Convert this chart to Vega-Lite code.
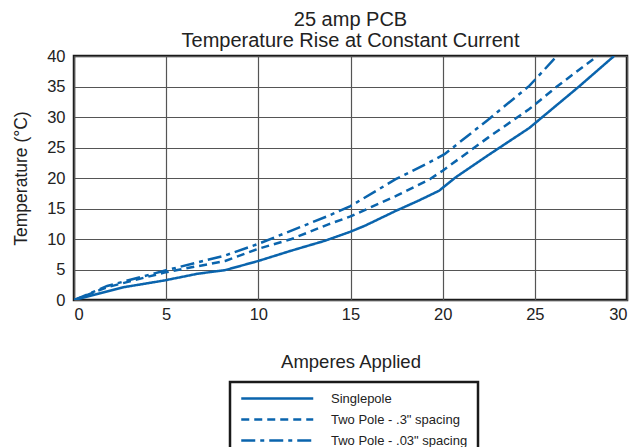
{
  "$schema": "https://vega.github.io/schema/vega-lite/v6.json",
  "width": 553,
  "height": 244,
  "autosize": {"type": "none"},
  "padding": {"left": 74, "top": 56, "right": 10, "bottom": 147},
  "background": "white",
  "title": {
    "text": ["25 amp PCB", "Temperature Rise at Constant Current"],
    "fontSize": 20,
    "fontWeight": "normal",
    "font": "Liberation Sans",
    "color": "#222222",
    "lineHeight": 21,
    "anchor": "middle",
    "baseline": "bottom",
    "offset": 5,
    "dy": 28
  },
  "config": {
    "font": "Liberation Sans",
    "view": {"stroke": "#1a1a1a", "strokeWidth": 2.5},
    "axis": {
      "domain": false,
      "ticks": false,
      "grid": true,
      "gridColor": "#555555",
      "gridWidth": 1.2,
      "gridOpacity": 1,
      "labelFont": "Liberation Sans",
      "labelFontSize": 16.5,
      "labelColor": "#222222",
      "titleFont": "Liberation Sans",
      "titleFontWeight": "normal",
      "titleColor": "#222222"
    }
  },
  "data": {
    "values": [
      {"series": "Singlepole", "amps": 0, "temp": 0},
      {"series": "Singlepole", "amps": 2.7, "temp": 2.1},
      {"series": "Singlepole", "amps": 4.9, "temp": 3.2},
      {"series": "Singlepole", "amps": 6.7, "temp": 4.3},
      {"series": "Singlepole", "amps": 8.2, "temp": 4.9},
      {"series": "Singlepole", "amps": 10, "temp": 6.4},
      {"series": "Singlepole", "amps": 11.8, "temp": 8.1},
      {"series": "Singlepole", "amps": 13.6, "temp": 9.7},
      {"series": "Singlepole", "amps": 15, "temp": 11.2},
      {"series": "Singlepole", "amps": 15.8, "temp": 12.2},
      {"series": "Singlepole", "amps": 17.45, "temp": 14.6},
      {"series": "Singlepole", "amps": 18.7, "temp": 16.3},
      {"series": "Singlepole", "amps": 19.8, "temp": 17.9},
      {"series": "Singlepole", "amps": 20.7, "temp": 20.1},
      {"series": "Singlepole", "amps": 22.55, "temp": 23.9},
      {"series": "Singlepole", "amps": 24.7, "temp": 28.2},
      {"series": "Singlepole", "amps": 27.4, "temp": 35},
      {"series": "Singlepole", "amps": 29.3, "temp": 40},
      {"series": "Two Pole - .3\" spacing", "amps": 0, "temp": 0},
      {"series": "Two Pole - .3\" spacing", "amps": 1.8, "temp": 2.1},
      {"series": "Two Pole - .3\" spacing", "amps": 4.9, "temp": 4.5},
      {"series": "Two Pole - .3\" spacing", "amps": 8.2, "temp": 6.4},
      {"series": "Two Pole - .3\" spacing", "amps": 10, "temp": 8.4},
      {"series": "Two Pole - .3\" spacing", "amps": 11.8, "temp": 10},
      {"series": "Two Pole - .3\" spacing", "amps": 13.8, "temp": 12.4},
      {"series": "Two Pole - .3\" spacing", "amps": 15, "temp": 13.7},
      {"series": "Two Pole - .3\" spacing", "amps": 17.5, "temp": 17.1},
      {"series": "Two Pole - .3\" spacing", "amps": 19.3, "temp": 19.8},
      {"series": "Two Pole - .3\" spacing", "amps": 20, "temp": 21.2},
      {"series": "Two Pole - .3\" spacing", "amps": 22.5, "temp": 26.7},
      {"series": "Two Pole - .3\" spacing", "amps": 24.7, "temp": 31.3},
      {"series": "Two Pole - .3\" spacing", "amps": 26.2, "temp": 35},
      {"series": "Two Pole - .3\" spacing", "amps": 28.4, "temp": 40},
      {"series": "Two Pole - .03\" spacing", "amps": 0, "temp": 0},
      {"series": "Two Pole - .03\" spacing", "amps": 1.8, "temp": 2.3},
      {"series": "Two Pole - .03\" spacing", "amps": 4.9, "temp": 4.8},
      {"series": "Two Pole - .03\" spacing", "amps": 8.2, "temp": 7.3},
      {"series": "Two Pole - .03\" spacing", "amps": 10, "temp": 9.2},
      {"series": "Two Pole - .03\" spacing", "amps": 13.8, "temp": 13.8},
      {"series": "Two Pole - .03\" spacing", "amps": 15, "temp": 15.4},
      {"series": "Two Pole - .03\" spacing", "amps": 17.45, "temp": 19.8},
      {"series": "Two Pole - .03\" spacing", "amps": 19.3, "temp": 22.6},
      {"series": "Two Pole - .03\" spacing", "amps": 20.1, "temp": 23.9},
      {"series": "Two Pole - .03\" spacing", "amps": 22.4, "temp": 29.4},
      {"series": "Two Pole - .03\" spacing", "amps": 24.7, "temp": 35.1},
      {"series": "Two Pole - .03\" spacing", "amps": 26.2, "temp": 40}
    ]
  },
  "mark": {"type": "line", "color": "#0a64ad", "strokeWidth": 2.5, "clip": true},
  "encoding": {
    "x": {
      "field": "amps",
      "type": "quantitative",
      "scale": {"domain": [0, 30], "nice": false},
      "axis": {"values": [0, 5, 10, 15, 20, 25, 30], "title": "Amperes Applied", "titleFontSize": 18.5, "labelPadding": 6, "titlePadding": 30}
    },
    "y": {
      "field": "temp",
      "type": "quantitative",
      "scale": {"domain": [0, 40], "nice": false},
      "axis": {"values": [0, 5, 10, 15, 20, 25, 30, 35, 40], "title": "Temperature (°C)", "titleFontSize": 17.5, "labelPadding": 9, "titlePadding": 16}
    },
    "strokeDash": {
      "field": "series",
      "type": "nominal",
      "sort": null,
      "scale": {
        "domain": ["Singlepole", "Two Pole - .3\" spacing", "Two Pole - .03\" spacing"],
        "range": [[1, 0], [8, 5], [14, 5, 4, 5]]
      },
      "legend": {
        "title": null,
        "orient": "none",
        "legendX": 156,
        "legendY": 326,
        "strokeColor": "#1a1a1a",
        "fillColor": "white",
        "padding": 10,
        "cornerRadius": 0,
        "symbolType": "M-1.05,0H13.35",
        "symbolSize": 100,
        "symbolStrokeWidth": 2.5,
        "symbolStrokeColor": "#0a64ad",
        "labelFont": "Liberation Sans",
        "labelFontSize": 13,
        "labelColor": "#222222",
        "labelOffset": 78,
        "rowPadding": 7,
        "encode": {"legend": {"update": {"strokeWidth": {"value": 2.5}}}}
      }
    }
  }
}
